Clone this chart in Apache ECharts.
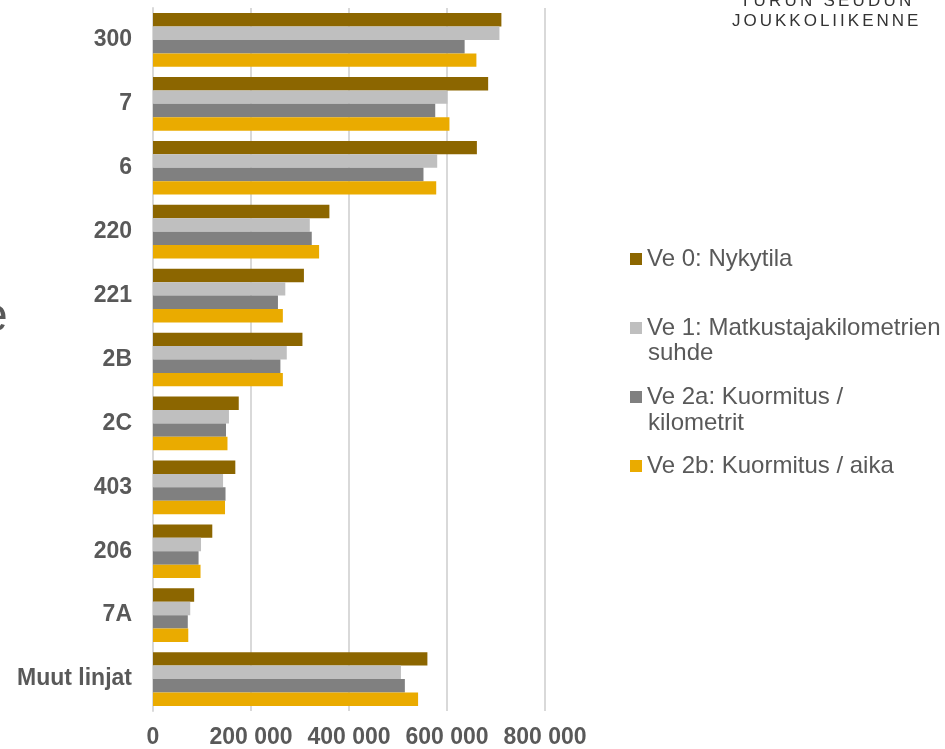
<!DOCTYPE html>
<html>
<head>
<meta charset="utf-8">
<script src="https://cdn.jsdelivr.net/npm/echarts@6/dist/echarts.min.js"></script>
<style>
  html, body { margin: 0; padding: 0; background: #fff; }
  #main { width: 945px; height: 749px; }
</style>
</head>
<body>
<div id="main"></div>
<script>
// linjat ylhäältä alas
const lines = ['300', '7', '6', '220', '221', '2B', '2C', '403', '206', '7A', 'Muut linjat'];

const seriesNames = ['Ve 0: Nykytila', 'Ve 1: Matkustajakilometrien', 'Ve 2a: Kuormitus /', 'Ve 2b: Kuormitus / aika'];

const ve0 = [711000, 684000, 661000, 360000, 308000, 305000, 175000, 168000, 121000, 84000, 560000];
const ve1 = [707000, 601000, 580000, 320000, 270000, 273000, 155000, 143000, 98000, 76000, 506000];
const ve2a = [636000, 576000, 552000, 324000, 255000, 260000, 149000, 148000, 93000, 71000, 514000];
const ve2b = [660000, 605000, 578000, 339000, 265000, 265000, 152000, 147000, 97000, 72000, 541000];

const xTicks = [0, 200000, 400000, 600000, 800000];

const colors = ['#8c6600', '#bfbfbf', '#808080', '#eaab00'];

const FONT = 'Liberation Sans, Arial, sans-serif';

const chart = echarts.init(document.getElementById('main'), null, { renderer: 'canvas' });

function fmt(v) {
  return String(v).replace(/\B(?=(\d{3})+(?!\d))/g, ' ');
}

// logoteksti harvennetulla kirjainvälillä
const ctx = document.createElement('canvas').getContext('2d');
function spacedText(str, x0, bottom, size, spacing) {
  ctx.font = size + 'px ' + FONT;
  const out = [];
  let x = x0;
  for (const ch of str) {
    if (ch !== ' ') {
      out.push({
        type: 'text', x: x, y: bottom,
        style: { text: ch, fontSize: size, fontFamily: FONT, fill: '#333333', verticalAlign: 'bottom' }
      });
    }
    x += ctx.measureText(ch).width + spacing;
  }
  return out;
}

const option = {
  backgroundColor: '#ffffff',
  animation: false,
  textStyle: { fontFamily: FONT },
  grid: { left: 153, right: 400, top: 8, bottom: 37 },
  legend: {
    orient: 'vertical',
    left: 630,
    top: 246,
    padding: 0,
    itemWidth: 12,
    itemHeight: 12,
    itemGap: 43,
    icon: 'rect',
    data: seriesNames,
    textStyle: { fontSize: 24, color: '#595959', lineHeight: 26, padding: [0, 0, 0, 0] }
  },
  xAxis: {
    type: 'value',
    min: 0,
    max: 800000,
    interval: 200000,
    axisLine: { show: false },
    axisTick: { show: false },
    splitLine: { lineStyle: { color: '#d9d9d9', width: 2 } },
    axisLabel: {
      margin: 15,
      fontSize: 23,
      fontWeight: 'bold',
      color: '#595959',
      formatter: v => xTicks.indexOf(v) >= 0 ? fmt(v) : ''
    }
  },
  yAxis: {
    type: 'category',
    data: lines,
    inverse: true,
    axisLine: { show: true, lineStyle: { color: '#d9d9d9', width: 2 } },
    axisTick: { show: false },
    axisLabel: { margin: 21, fontSize: 23, fontWeight: 'bold', color: '#595959', padding: [4, 0, 0, 0] }
  },
  series: [ve0, ve1, ve2a, ve2b].map((d, i) => ({
    name: seriesNames[i],
    type: 'bar',
    data: d,
    barGap: '0%',
    barCategoryGap: '16%',
    itemStyle: { color: colors[i] }
  })),
  graphic: [
    { type: 'text', left: 648, top: 341, style: { text: 'suhde', fontSize: 24, fill: '#595959', fontFamily: FONT } },
    { type: 'text', left: 648, top: 411, style: { text: 'kilometrit', fontSize: 24, fill: '#595959', fontFamily: FONT } },
    { type: 'text', left: -19, top: 294, style: { text: 'e', fontSize: 48, fill: '#595959', fontFamily: FONT } }
  ]
    .concat(spacedText('TURUN SEUDUN', 740, 10, 17, 3.2))
    .concat(spacedText('JOUKKOLIIKENNE', 732, 30, 17, 3.0))
};

chart.setOption(option);
</script>
</body>
</html>
